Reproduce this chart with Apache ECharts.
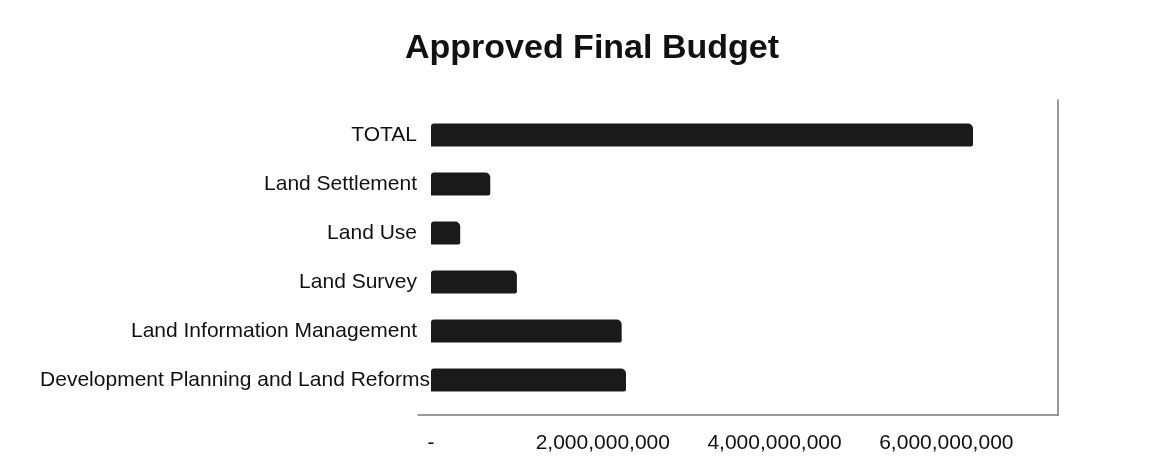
<!DOCTYPE html>
<html>
<head>
<meta charset="utf-8">
<script src="https://cdn.jsdelivr.net/npm/echarts@6/dist/echarts.min.js"></script>
<style>
html,body{margin:0;padding:0;background:#fff;}
#chart{width:1155px;height:466px;}
</style>
</head>
<body>
<div id="chart"></div>
<script>
var categories = ['TOTAL', 'Land Settlement', 'Land Use', 'Land Survey', 'Land Information Management', 'Development Planning and Land Reforms'];
var budgetValues = [6310000000, 690000000, 340000000, 1000000000, 2220000000, 2270000000];
var tickInterval = 2000000000;
var axisMax = 7300000000;

var chart = echarts.init(document.getElementById('chart'));
var font = '"Liberation Sans", Arial, sans-serif';

var yData = categories.map(function (c) {
  if (c === 'Development Planning and Land Reforms') {
    return { value: c, textStyle: { padding: [6, -13, 0, 0] } };
  }
  return c;
});

chart.setOption({
  animation: false,
  backgroundColor: '#ffffff',
  title: {
    text: 'Approved Final Budget',
    left: 400,
    top: 27,
    textStyle: { fontFamily: font, fontSize: 34, fontWeight: 'bold', color: '#111' }
  },
  grid: [
    { left: 431, right: 97, top: 110.5, height: 294 },
    { left: 418, right: 97, top: 100, bottom: 51 }
  ],
  xAxis: [
    {
      type: 'value', gridIndex: 0, min: 0, max: axisMax, interval: tickInterval,
      offset: 10.5,
      axisLine: { show: false }, axisTick: { show: false }, splitLine: { show: false },
      axisLabel: {
        showMaxLabel: false, margin: 18, fontFamily: font, fontSize: 21, color: '#111',
        formatter: function (v) { return v === 0 ? '-' : v.toLocaleString('en-US'); }
      }
    },
    {
      type: 'value', gridIndex: 1,
      axisLine: { show: true, onZero: false, lineStyle: { color: '#777', width: 1.5 } },
      axisTick: { show: false }, axisLabel: { show: false }, splitLine: { show: false }
    }
  ],
  yAxis: [
    {
      type: 'category', gridIndex: 0, inverse: true, data: yData,
      axisLine: { show: false }, axisTick: { show: false }, splitLine: { show: false },
      axisLabel: { margin: 14, padding: [6, 0, 0, 0], fontFamily: font, fontSize: 21, color: '#111' }
    },
    {
      type: 'value', gridIndex: 1, position: 'right',
      axisLine: { show: true, onZero: false, lineStyle: { color: '#777', width: 1.5 } },
      axisTick: { show: false }, axisLabel: { show: false }, splitLine: { show: false }
    }
  ],
  series: [
    {
      type: 'bar', xAxisIndex: 0, yAxisIndex: 0,
      data: budgetValues,
      barWidth: 23,
      itemStyle: { color: '#1a1a1a', borderRadius: [3, 5, 2, 0] }
    }
  ]
});
</script>
</body>
</html>
